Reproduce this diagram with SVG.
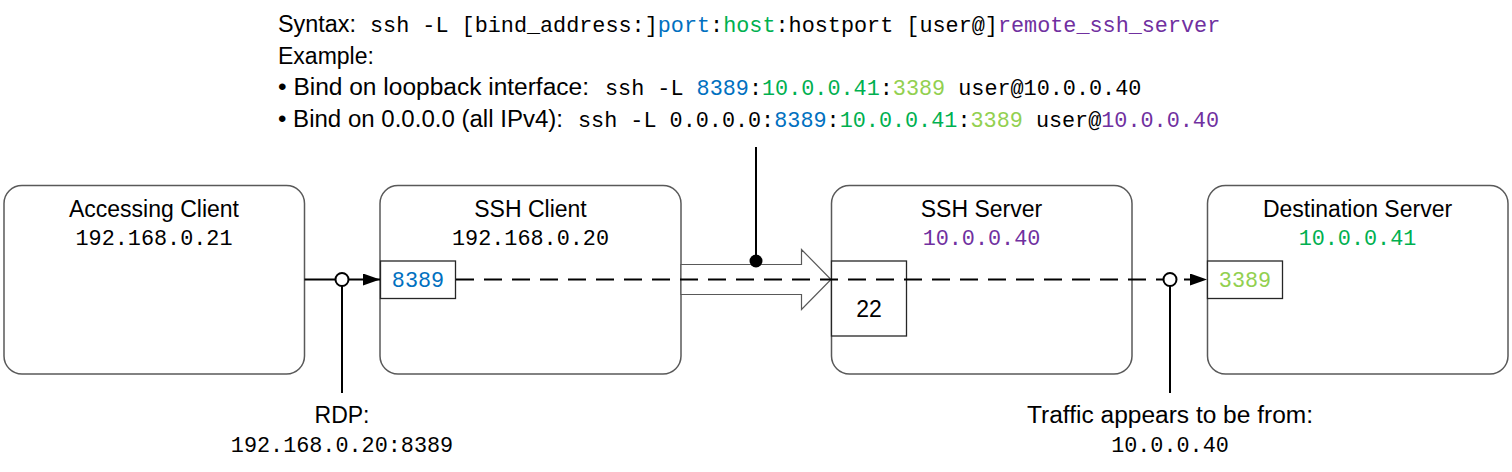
<svg xmlns="http://www.w3.org/2000/svg" width="1512" height="472" viewBox="0 0 1512 472">
<style>
.s{font-family:"Liberation Sans",Arial,sans-serif;font-size:23px;fill:#000}
.m{font-family:"Liberation Mono","DejaVu Sans Mono",monospace;font-size:21.8px;fill:#000}
.node{fill:#fff;stroke:#595959;stroke-width:1.5}
.port{fill:#fff;stroke:#262626;stroke-width:1.3}
.blue{fill:#0070C0}.green{fill:#00B050}.lgreen{fill:#92D050}.purple{fill:#7030A0}
.ln{stroke:#000;stroke-width:2;fill:none}
.dash{stroke:#000;stroke-width:2;fill:none;stroke-dasharray:18 10}
.oc{fill:#fff;stroke:#000;stroke-width:2}
</style>
<defs>
<marker id="ah" markerWidth="17" markerHeight="12" refX="17" refY="6" orient="auto" markerUnits="userSpaceOnUse">
<path d="M0,0 L17,6 L0,12 Z" fill="#000"/>
</marker>
</defs>
<g id="header">
<text class="s" x="278" y="32" textLength="78" lengthAdjust="spacingAndGlyphs">Syntax:</text>
<text class="m" x="370" y="32">ssh -L [bind_address:]<tspan class="blue">port</tspan>:<tspan class="green">host</tspan>:hostport [user@]<tspan class="purple">remote_ssh_server</tspan></text>
<text class="s" x="278" y="63.5">Example:</text>
<text class="s" x="278" y="95" textLength="311" lengthAdjust="spacingAndGlyphs">• Bind on loopback interface:</text>
<text class="m" x="605" y="95">ssh -L <tspan class="blue">8389</tspan>:<tspan class="green">10.0.0.41</tspan>:<tspan class="lgreen">3389</tspan> user@10.0.0.40</text>
<text class="s" x="278" y="126.5" textLength="285" lengthAdjust="spacingAndGlyphs">• Bind on 0.0.0.0 (all IPv4):</text>
<text class="m" x="578" y="126.5">ssh -L 0.0.0.0:<tspan class="blue">8389</tspan>:<tspan class="green">10.0.0.41</tspan>:<tspan class="lgreen">3389</tspan> user@<tspan class="purple">10.0.0.40</tspan></text>
</g>
<g id="accessing-client">
<rect class="node" x="4" y="185.5" width="300.5" height="188.5" rx="18"/>
<text class="s" x="154" y="217" text-anchor="middle">Accessing Client</text>
<text class="m" x="154" y="245" text-anchor="middle">192.168.0.21</text>
</g>
<g id="ssh-client">
<rect class="node" x="380" y="185.5" width="301" height="188.5" rx="18"/>
<text class="s" x="530.5" y="217" text-anchor="middle">SSH Client</text>
<text class="m" x="530.5" y="245" text-anchor="middle">192.168.0.20</text>
<rect class="port" x="380.5" y="261" width="75" height="37.5"/>
<text class="m blue" x="418" y="287" text-anchor="middle">8389</text>
</g>
<g id="ssh-server">
<rect class="node" x="831.5" y="185.5" width="300.5" height="188.5" rx="18"/>
<text class="s" x="981.5" y="217" text-anchor="middle">SSH Server</text>
<text class="m purple" x="981.5" y="245" text-anchor="middle">10.0.0.40</text>
<rect class="port" x="831.5" y="261" width="75" height="75"/>
<text class="s" x="869" y="317" text-anchor="middle">22</text>
</g>
<g id="destination-server">
<rect class="node" x="1207.5" y="185.5" width="300.5" height="188.5" rx="18"/>
<text class="s" x="1357.5" y="217" text-anchor="middle">Destination Server</text>
<text class="m green" x="1357.5" y="245" text-anchor="middle">10.0.0.41</text>
<rect class="port" x="1207.5" y="261" width="75" height="37.5"/>
<text class="m lgreen" x="1245" y="287" text-anchor="middle">3389</text>
</g>
<g id="connectors">
<polygon points="681,264.5 801.5,264.5 801.5,249.5 831,279.5 801.5,309.5 801.5,294.5 681,294.5" fill="#fff" stroke="#595959" stroke-width="1.2"/>
<line class="ln" x1="304.5" y1="279.5" x2="380" y2="279.5" marker-end="url(#ah)"/>
<line class="ln" x1="342" y1="279.5" x2="342" y2="393"/>
<circle class="oc" cx="342" cy="279.5" r="6.5"/>
<line class="dash" x1="456" y1="279.5" x2="1207" y2="279.5" marker-end="url(#ah)"/>
<line class="ln" x1="1170" y1="279.5" x2="1170" y2="393"/>
<circle class="oc" cx="1170" cy="279.5" r="6.5"/>
<line class="ln" x1="756" y1="147" x2="756" y2="261"/>
<circle cx="756" cy="261" r="6.5" fill="#000"/>
</g>
<g id="labels">
<text class="s" x="342" y="423" text-anchor="middle">RDP:</text>
<text class="m" x="342" y="452" text-anchor="middle">192.168.0.20:8389</text>
<text class="s" x="1027" y="423" textLength="286" lengthAdjust="spacingAndGlyphs">Traffic appears to be from:</text>
<text class="m" x="1170" y="452" text-anchor="middle">10.0.0.40</text>
</g>
</svg>
